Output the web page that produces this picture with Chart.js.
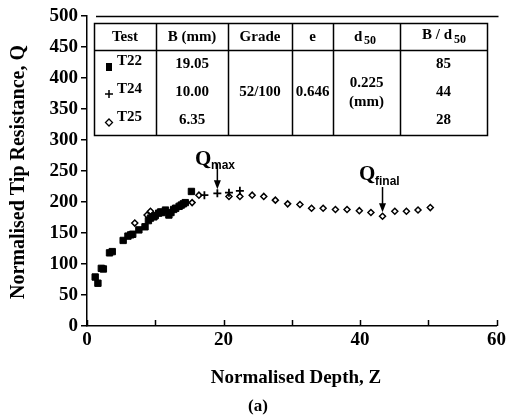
<!DOCTYPE html>
<html>
<head>
<meta charset="utf-8">
<script src="https://cdn.jsdelivr.net/npm/chart.js@4"></script>
<style>
  html, body { margin: 0; padding: 0; background: #fff; }
  #wrap { width: 509px; height: 417px; position: relative; }
</style>
</head>
<body>
<div id="wrap"><canvas id="tipChart"></canvas></div>
<script>
// data (Z, Q)
const t22Z = [1.2, 1.6, 2.1, 2.4, 3.3, 3.7, 5.3, 6.0, 6.4, 6.7, 7.6, 8.5, 9.0, 9.3, 9.8, 10.0, 10.5, 10.8, 11.0, 11.5, 12.0, 12.3, 12.7, 13.0, 13.5, 13.8, 14.1, 14.4, 15.3];
const t22Q = [79, 69, 93, 92, 118, 120, 138, 145, 147, 148, 155, 160, 170, 174, 176, 178, 182, 184, 183, 187, 179, 183, 188, 190, 193, 195, 197, 199, 217];
const t24Z = [17.2, 19.1, 20.8, 22.4];
const t24Q = [211, 214, 215, 218];
const t25Z = [7.0, 8.8, 9.3, 15.4, 16.4, 20.8, 22.4, 24.2, 25.9, 27.6, 29.4, 31.2, 32.9, 34.6, 36.4, 38.1, 39.9, 41.6, 43.3, 45.1, 46.8, 48.5, 50.3];
const t25Q = [166, 179, 185, 199, 211, 209, 209, 211, 209, 203, 197, 196, 190, 190, 188, 188, 186, 183, 177, 185, 185, 187, 191];

const xTicks = [0, 20, 40, 60];
const yTicks = [0, 50, 100, 150, 200, 250, 300, 350, 400, 450, 500];

// table in the top of the plot
const tableHead = ["Test", "B (mm)", "Grade", "e", "d50", "B / d50"];
const testNames = ["T22", "T24", "T25"];
const widths = ["19.05", "10.00", "6.35"];
const ratios = ["85", "44", "28"];

function toPoints(xs, ys) {
  return xs.map((x, i) => ({ x: x, y: ys[i] }));
}

const serif = "'Liberation Serif', 'Times New Roman', serif";

// draws ticks, table, labels, arrows
const extras = {
  id: "extras",
  afterDraw(chart) {
    const ctx = chart.ctx;
    const area = chart.chartArea;
    const xs = chart.scales.x;
    ctx.save();
    ctx.strokeStyle = "#000";
    ctx.fillStyle = "#000";

    // x ticks point inward
    ctx.lineWidth = 1.5;
    for (let v = 0; v <= 60; v += 10) {
      const px = Math.round(xs.getPixelForValue(v)) + 0.5;
      ctx.beginPath();
      ctx.moveTo(px, area.bottom);
      ctx.lineTo(px, area.bottom - 6);
      ctx.stroke();
    }

    // top frame line
    ctx.lineWidth = 1.5;
    ctx.beginPath();
    ctx.moveTo(area.left + 9, area.top + 0.5);
    ctx.lineTo(area.right + 2, area.top + 0.5);
    ctx.stroke();

    // table
    const cols = [94, 156, 228, 292, 333, 400, 487];
    const tTop = 23, tHead = 50, tBot = 135;
    ctx.lineWidth = 1.5;
    ctx.strokeRect(cols[0] + 0.5, tTop + 0.5, cols[6] - cols[0], tBot - tTop);
    ctx.beginPath();
    ctx.moveTo(cols[0], tHead + 0.5);
    ctx.lineTo(cols[6], tHead + 0.5);
    for (let i = 1; i < 6; i++) {
      ctx.moveTo(cols[i] + 0.5, tTop);
      ctx.lineTo(cols[i] + 0.5, tBot);
    }
    ctx.stroke();

    ctx.font = "bold 15px " + serif;
    ctx.textAlign = "center";
    ctx.textBaseline = "middle";
    const mid = (i) => (cols[i] + cols[i + 1]) / 2;
    const hy = 37;
    ctx.fillText(tableHead[0], mid(0), hy);
    ctx.fillText(tableHead[1], mid(1), hy);
    ctx.fillText(tableHead[2], mid(2), hy);
    ctx.fillText(tableHead[3], mid(3), hy);
    // d50 with subscript
    ctx.textAlign = "left";
    ctx.fillText("d", 354, hy);
    ctx.font = "bold 12px " + serif;
    ctx.fillText("50", 364, hy + 4);
    ctx.font = "bold 15px " + serif;
    ctx.fillText("B / d", 422, hy - 2);
    ctx.font = "bold 12px " + serif;
    ctx.fillText("50", 454, hy + 3);

    const rowsY = [64, 92, 120];
    ctx.font = "bold 15px " + serif;
    for (let r = 0; r < 3; r++) {
      ctx.textAlign = "left";
      ctx.fillText(testNames[r], 117, rowsY[r] - 3);
      ctx.textAlign = "center";
      ctx.fillText(widths[r], mid(1), rowsY[r]);
      ctx.fillText(ratios[r], mid(5), rowsY[r]);
    }
    ctx.fillText("52/100", mid(2), 92);
    ctx.fillText("0.646", mid(3), 92);
    ctx.fillText("0.225", mid(4), 83);
    ctx.fillText("(mm)", mid(4), 102);

    // legend markers in the table
    ctx.fillRect(106, 63, 6, 8);
    ctx.lineWidth = 1.5;
    ctx.beginPath();
    ctx.moveTo(105, 94); ctx.lineTo(113, 94);
    ctx.moveTo(109, 90); ctx.lineTo(109, 98);
    ctx.stroke();
    ctx.lineWidth = 1.3;
    ctx.beginPath();
    ctx.moveTo(109, 119); ctx.lineTo(112.5, 122.5); ctx.lineTo(109, 126); ctx.lineTo(105.5, 122.5);
    ctx.closePath();
    ctx.stroke();

    // annotations
    const ys = chart.scales.y;
    function arrow(x, y1, y2) {
      ctx.lineWidth = 1.5;
      ctx.beginPath();
      ctx.moveTo(x, y1);
      ctx.lineTo(x, y2 - 6);
      ctx.stroke();
      ctx.beginPath();
      ctx.moveTo(x - 3.5, y2 - 9);
      ctx.lineTo(x + 3.5, y2 - 9);
      ctx.lineTo(x, y2);
      ctx.closePath();
      ctx.fill();
    }
    const qmx = xs.getPixelForValue(19.1);
    const qmy = ys.getPixelForValue(214);
    arrow(qmx, 164, qmy - 4);
    const qfx = xs.getPixelForValue(43.3);
    const qfy = ys.getPixelForValue(177);
    arrow(qfx, 187, qfy - 4);

    ctx.textBaseline = "alphabetic";
    ctx.textAlign = "left";
    ctx.font = "bold 21px " + serif;
    ctx.fillText("Q", 195, 165);
    ctx.fillText("Q", 359, 180);
    ctx.font = "bold 12px 'Liberation Sans', Arial, sans-serif";
    ctx.fillText("max", 211, 169);
    ctx.fillText("final", 375, 185);

    // axis titles
    ctx.font = "bold 19px " + serif;
    ctx.textAlign = "center";
    ctx.fillText("Normalised Depth, Z", 296, 383);
    ctx.font = "bold 17px " + serif;
    ctx.fillText("(a)", 258, 411);
    ctx.save();
    ctx.translate(24, 172);
    ctx.rotate(-Math.PI / 2);
    ctx.font = "bold 20px " + serif;
    ctx.fillText("Normalised Tip Resistance, Q", 0, 0);
    ctx.restore();

    ctx.restore();
  }
};

new Chart(document.getElementById("tipChart"), {
  type: "scatter",
  data: {
    datasets: [
      {
        label: "T22",
        data: toPoints(t22Z, t22Q),
        pointStyle: "rect",
        pointRadius: 4.5,
        backgroundColor: "#000",
        borderColor: "#000",
        borderWidth: 1,
      },
      {
        label: "T24",
        data: toPoints(t24Z, t24Q),
        pointStyle: "cross",
        pointRadius: 4,
        backgroundColor: "#000",
        borderColor: "#000",
        borderWidth: 1.8,
      },
      {
        label: "T25",
        data: toPoints(t25Z, t25Q),
        pointStyle: "rectRot",
        pointRadius: 3,
        backgroundColor: "#fff",
        borderColor: "#000",
        borderWidth: 1.5,
      },
    ],
  },
  plugins: [extras],
  options: {
    responsive: true,
    maintainAspectRatio: false,
    animation: false,
    events: [],
    layout: { padding: { top: 16, right: 11, left: 0, bottom: 0 } },
    plugins: { legend: { display: false }, tooltip: { enabled: false } },
    scales: {
      x: {
        type: "linear",
        min: 0,
        max: 60,
        afterFit: (s) => { s.height = 91; },
        afterBuildTicks: (s) => { s.ticks = xTicks.map((v) => ({ value: v })); },
        grid: { display: false, drawTicks: false },
        border: { display: true, color: "#000", width: 1.5 },
        ticks: {
          padding: 3,
          color: "#000",
          maxRotation: 0,
          font: { family: serif, size: 19, weight: "bold" },
        },
      },
      y: {
        type: "linear",
        min: 0,
        max: 500,
        afterFit: (s) => { s.width = 87; },
        afterBuildTicks: (s) => { s.ticks = yTicks.map((v) => ({ value: v })); },
        grid: { drawOnChartArea: false, drawTicks: true, tickLength: 6, color: "#000", lineWidth: 1.5 },
        border: { display: true, color: "#000", width: 1.5 },
        ticks: {
          padding: 3,
          color: "#000",
          font: { family: serif, size: 19, weight: "bold" },
        },
      },
    },
  },
});
</script>
</body>
</html>
